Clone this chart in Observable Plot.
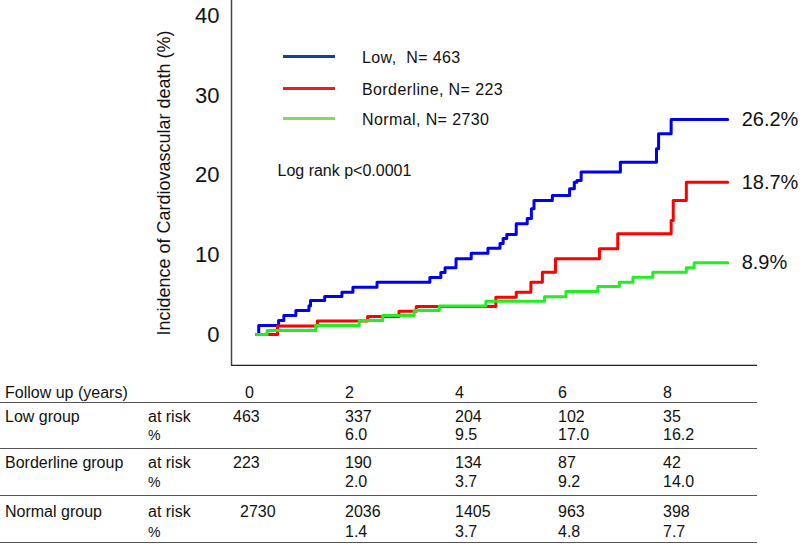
<!DOCTYPE html>
<html>
<head>
<meta charset="utf-8">
<script src="https://cdn.jsdelivr.net/npm/d3@7"></script>
<script src="https://cdn.jsdelivr.net/npm/@observablehq/plot@0.6"></script>
<style>
  body { margin: 0; background: #fff; }
  #wrap { position: relative; width: 800px; height: 544px; font-family: "Liberation Sans", Arial, sans-serif; color: #111; }
  .t { position: absolute; line-height: 1; transform: translateY(-50%); white-space: pre; }
  .hl { position: absolute; left: 0; width: 757px; height: 1px; background: #555; }
  .lg { position: absolute; width: 52px; height: 3px; }
</style>
</head>
<body>
<div id="wrap"></div>
<script>
// ---- data ----
const seriesNames = ["Low", "Borderline", "Normal"];
const legendLabels = ["Low,  N= 463", "Borderline, N= 223", "Normal, N= 2730"];
const finalLabels = ["26.2%", "18.7%", "8.9%"];
const lineColors = ["#0000ee", "#ff0000", "#22ee22"];
const legendColors = ["#1c3a9c", "#f01c1c", "#8cd65c"];

const lowT = [0,0.04,0.42,0.52,0.75,1.00,1.03,1.30,1.63,1.84,2.30,3.31,3.52,3.60,3.81,4.10,4.42,4.65,4.71,4.78,4.96,5.17,5.25,5.30,5.65,5.98,6.07,6.12,6.20,6.95,7.64,7.68,7.92,9.0];
const lowV = [0,1.13,1.76,2.39,3.02,3.6,4.28,4.78,5.32,5.95,6.58,7.17,7.8,8.39,9.52,10.23,10.86,11.45,12.08,12.58,13.92,14.59,15.81,16.86,17.48,18.33,19.16,19.37,20.42,21.67,23.36,25.25,27.04,27.04];

const borderT = [0,0.40,1.16,2.12,2.72,3.05,4.57,4.96,5.24,5.46,5.71,6.55,6.90,7.92,7.96,8.21,9.0];
const borderV = [0,1.07,1.70,2.26,2.93,3.52,4.69,5.32,6.58,7.84,9.52,10.78,12.67,14.34,16.86,19.16,19.16];

const normalT = [0,0.20,1.13,1.96,2.41,3.01,3.49,4.38,5.50,5.91,6.52,6.93,7.19,7.57,8.21,8.36,9.0];
const normalV = [0,0.5,1.13,1.76,2.39,3.02,3.58,4.19,4.74,5.41,6.04,6.58,7.21,7.84,8.39,9.02,9.02];

const yTicks = [0, 10, 20, 30, 40];
const yLabel = "Incidence of Cardiovascular death (%)";
const logRank = "Log rank p<0.0001";

// at-risk table
const years = [0, 2, 4, 6, 8];
const groupNames = ["Low group", "Borderline group", "Normal group"];
const atRisk = [[463,337,204,102,35],[223,190,134,87,42],[2730,2036,1405,963,398]];
const pct = [["","6.0","9.5","17.0","16.2"],["","2.0","3.7","9.2","14.0"],["","1.4","3.7","4.8","7.7"]];

// ---- build ----
const allT = [lowT, borderT, normalT];
const allV = [lowV, borderV, normalV];
const rows = [];
allT.forEach((ts, i) => ts.forEach((t, j) => rows.push({series: seriesNames[i], t, v: allV[i][j]})));
const lasts = seriesNames.map((s, i) => ({series: s, t: allT[i][allT[i].length - 1], v: allV[i][allV[i].length - 1], label: finalLabels[i]}));

const xDomain = [-0.48, 9.57];
const yDomain = [-3.9, 42.0];
const font = '"Liberation Sans", Arial, sans-serif';

const chart = Plot.plot({
  width: 800,
  height: 366,
  marginLeft: 231,
  marginRight: 43,
  marginTop: 0,
  marginBottom: 1,
  style: {fontFamily: font, background: "transparent", color: "#111"},
  x: {domain: xDomain, axis: null},
  y: {domain: yDomain},
  color: {domain: seriesNames, range: lineColors},
  marks: [
    Plot.axisY({ticks: yTicks, tickSize: 0, tickPadding: 12, fontSize: 22, label: null, tickFormat: d => String(d)}),
    Plot.axisY({ticks: [], tickSize: 0, label: yLabel, labelAnchor: "center", labelOffset: 74, labelArrow: "none", fontSize: 18}),
    Plot.ruleX([xDomain[0]], {stroke: "#444", strokeWidth: 1.5}),
    Plot.ruleY([yDomain[0]], {stroke: "#222", strokeWidth: 1.5}),
    Plot.line(rows, {x: "t", y: "v", z: "series", stroke: "series", strokeWidth: 3, curve: "step-after"}),
    Plot.text(lasts, {x: "t", y: "v", text: "label", dx: 14, textAnchor: "start", fontSize: 20, fill: "#111"}),
    Plot.text([logRank], {frameAnchor: "top-left", dx: 46, dy: 170, fontSize: 16, fill: "#111", lineAnchor: "middle", textAnchor: "start", fontWeight: "500"})
  ]
});

const wrap = document.getElementById("wrap");
wrap.appendChild(chart);

function addText(str, x, y, size, extra) {
  const s = document.createElement("span");
  s.className = "t";
  s.textContent = str;
  s.style.left = x + "px";
  s.style.top = y + "px";
  s.style.fontSize = size + "px";
  if (extra) Object.assign(s.style, extra);
  wrap.appendChild(s);
}

// legend (inside the plot area)
const legendY = [56, 88, 118];
legendLabels.forEach((lab, i) => {
  const l = document.createElement("div");
  l.className = "lg";
  l.style.left = "283px";
  l.style.top = (legendY[i] - 1.5) + "px";
  l.style.background = legendColors[i];
  wrap.appendChild(l);
  addText(lab, 362, legendY[i] + 2, 16, {letterSpacing: "0.4px"});
});

// table
const colX = [233, 345, 455, 558, 663];
addText("Follow up (years)", 5, 393, 16);
years.forEach((y, j) => addText(String(y), j === 0 ? 245 : colX[j], 393, 16));
const rowY = [[417, 435], [463, 482], [512, 532]];
groupNames.forEach((g, i) => {
  addText(g, 5, rowY[i][0], 16);
  addText("at risk", 148, rowY[i][0], 16);
  addText("%", 148, rowY[i][1], 14);
  atRisk[i].forEach((n, j) => addText(String(n), (j === 0 && n > 999) ? 240 : colX[j], rowY[i][0], 16));
  pct[i].forEach((p, j) => { if (p) addText(p, colX[j], rowY[i][1], 16); });
});
[402, 448, 495, 542].forEach(y => {
  const h = document.createElement("div");
  h.className = "hl";
  h.style.top = y + "px";
  wrap.appendChild(h);
});
</script>
</body>
</html>
